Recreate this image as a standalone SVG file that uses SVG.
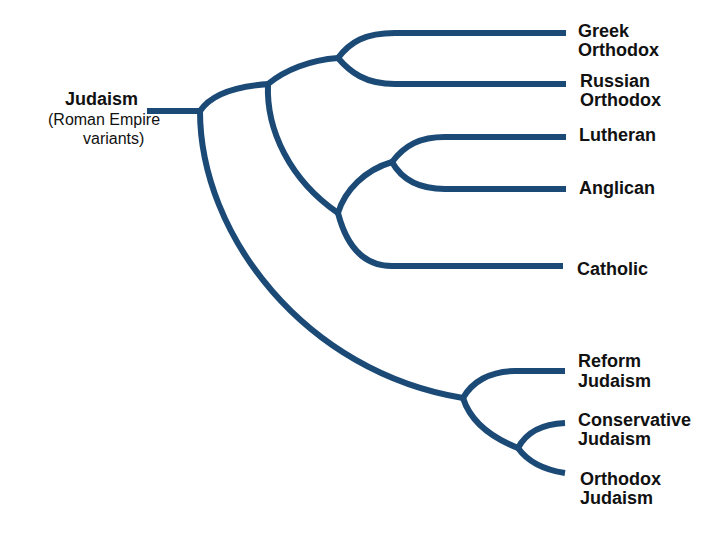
<svg xmlns="http://www.w3.org/2000/svg" width="720" height="540" viewBox="0 0 720 540">
<style>
.e{fill:none;stroke:#1c4a77;stroke-width:6;stroke-linecap:butt;stroke-linejoin:round}
.t{font-family:"Liberation Sans",Arial,sans-serif;font-weight:bold;font-size:18px;fill:#111}
.s{font-family:"Liberation Sans",Arial,sans-serif;font-size:16px;fill:#111}
</style>
<rect width="720" height="540" fill="#fff"/>
<g id="connectors">
<path class="e" d="M147,111 H201"/>
<path class="e" d="M200,111 C212,93 238,86 269,84"/>
<path class="e" d="M268,84 C285,70 310,60 338,58"/>
<path class="e" d="M338,58 C350,42 365,33 395,33 H566"/>
<path class="e" d="M338,58 C350,72 365,84 395,84 H566"/>
<path class="e" d="M268,84 C266,130 290,180 338,213"/>
<path class="e" d="M338,213 C345,190 365,170 392,162"/>
<path class="e" d="M392,162 C405,145 420,137 445,137 H566"/>
<path class="e" d="M392,162 C402,180 420,189 445,189 H566"/>
<path class="e" d="M338,213 C345,240 360,266 392,266 H563"/>
<path class="e" d="M200,111 C200,235 305,372 463,398"/>
<path class="e" d="M463,398 C472,382 490,371 515,371 H565"/>
<path class="e" d="M463,398 C470,420 490,437 518,448"/>
<path class="e" d="M518,448 C526,433 540,424 565,423"/>
<path class="e" d="M518,448 C528,462 545,470 565,473"/>
</g>
<g id="judaism-root">
<text class="t" x="65" y="105">Judaism</text>
<text class="s" x="48" y="125">(Roman Empire</text>
<text class="s" x="83" y="144">variants)</text>
</g>
<g id="greek-orthodox"><text class="t" x="578" y="37">Greek</text><text class="t" x="578" y="56">Orthodox</text></g>
<g id="russian-orthodox"><text class="t" x="580" y="87">Russian</text><text class="t" x="580" y="106">Orthodox</text></g>
<g id="lutheran"><text class="t" x="579" y="141">Lutheran</text></g>
<g id="anglican"><text class="t" x="579" y="194">Anglican</text></g>
<g id="catholic"><text class="t" x="577" y="275">Catholic</text></g>
<g id="reform-judaism"><text class="t" x="578" y="367">Reform</text><text class="t" x="578" y="387">Judaism</text></g>
<g id="conservative-judaism"><text class="t" x="578" y="426">Conservative</text><text class="t" x="578" y="445">Judaism</text></g>
<g id="orthodox-judaism"><text class="t" x="580" y="485">Orthodox</text><text class="t" x="580" y="504">Judaism</text></g>
</svg>
